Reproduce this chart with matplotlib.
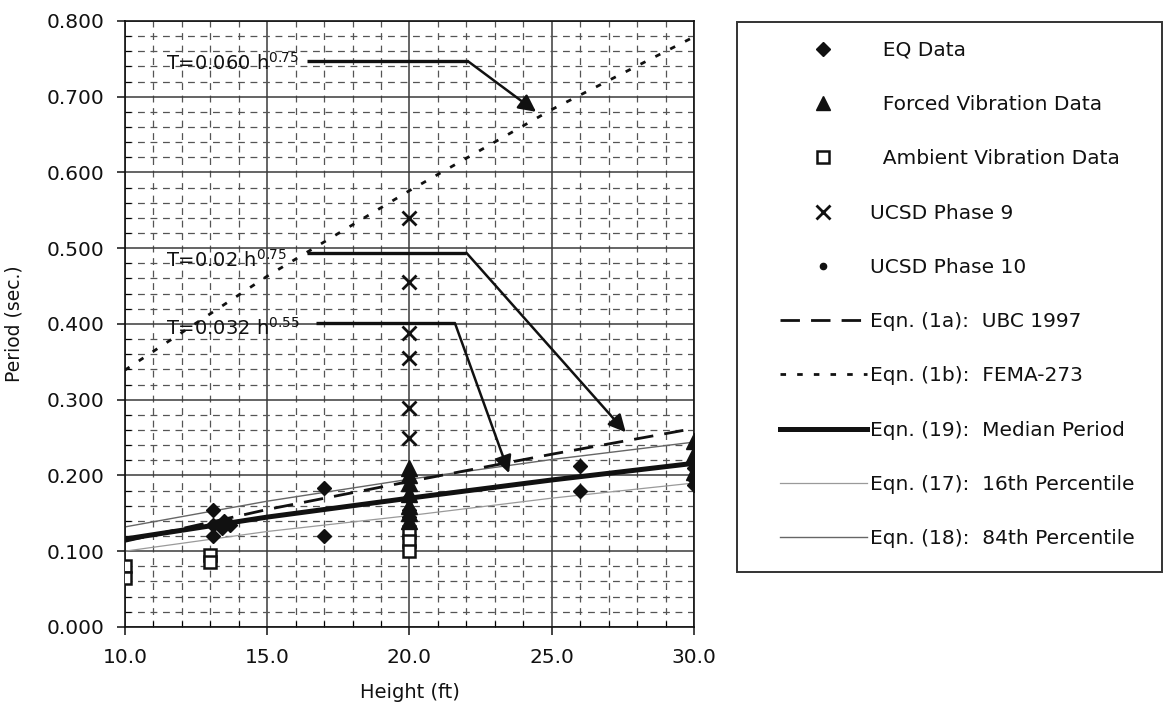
"""Fundamental period vs. building height: data points, code equations and fitted curves."""

import matplotlib

matplotlib.use("Agg")
import matplotlib.pyplot as plt
from matplotlib.lines import Line2D
from matplotlib.patches import Rectangle
from matplotlib.ticker import FormatStrFormatter, MultipleLocator

plt.rcParams["font.family"] = ["DejaVu Sans"]
plt.rcParams["mathtext.fontset"] = "dejavusans"

eq_height = [13.1, 13.1, 13.1, 13.4, 13.7, 13.5, 17.0, 17.0, 20.0, 20.0, 20.0, 26.0, 26.0, 30.0, 30.0, 30.0]
eq_period = [0.155, 0.135, 0.120, 0.130, 0.135, 0.140, 0.183, 0.120, 0.170, 0.155, 0.145, 0.213, 0.180, 0.210, 0.195, 0.188]

forced_height = [20.0, 20.0, 20.0, 20.0, 20.0, 20.0, 20.0, 30.0, 30.0, 30.0]
forced_period = [0.210, 0.200, 0.190, 0.175, 0.160, 0.150, 0.140, 0.245, 0.228, 0.205]

ambient_height = [10.0, 10.0, 13.0, 13.0, 20.0, 20.0, 20.0]
ambient_period = [0.080, 0.065, 0.095, 0.086, 0.125, 0.113, 0.100]

phase9_height = [20.0, 20.0, 20.0, 20.0, 20.0, 20.0]
phase9_period = [0.540, 0.455, 0.388, 0.355, 0.289, 0.250]

phase10_height = [20.0, 20.0]
phase10_period = [0.180, 0.160]

# --- equation curves ---
curve_height = [10.0, 15.0, 20.0, 25.0, 30.0]
ubc_period = [0.113, 0.155, 0.192, 0.228, 0.262]
fema_period = [0.339, 0.463, 0.576, 0.683, 0.779]
median_period = [0.116, 0.145, 0.170, 0.194, 0.216]
p16_period = [0.100, 0.126, 0.147, 0.170, 0.190]
p84_period = [0.132, 0.166, 0.195, 0.221, 0.244]

# --- callouts: label, text position, horizontal leader (x0, x1, y), arrow tip ---
callout_labels = ["T=0.060 h$^{0.75}$", "T=0.02 h$^{0.75}$", "T=0.032 h$^{0.55}$"]
callout_text_xy = [(11.45, 0.745), (11.45, 0.485), (11.45, 0.395)]
callout_leader = [(16.4, 22.05, 0.747), (16.4, 22.0, 0.494), (16.7, 21.6, 0.401)]
callout_tip = [(24.45, 0.680), (27.6, 0.257), (23.5, 0.203)]

INK = "#111111"
W, H = 1167, 710

fig = plt.figure(figsize=(W / 100, H / 100), dpi=100)
ax = fig.add_axes([0.107, 0.117, 0.4877, 0.8535])

ax.set_xlim(10, 30)
ax.set_ylim(0, 0.8)
ax.xaxis.set_major_locator(MultipleLocator(5))
ax.xaxis.set_minor_locator(MultipleLocator(1))
ax.yaxis.set_major_locator(MultipleLocator(0.1))
ax.yaxis.set_minor_locator(MultipleLocator(0.02))
ax.xaxis.set_major_formatter(FormatStrFormatter("%.1f"))
ax.yaxis.set_major_formatter(FormatStrFormatter("%.3f"))

ax.grid(True, which="major", color="#3a3a3a", lw=1.1, zorder=0)
ax.grid(True, which="minor", color="#555555", lw=0.9, ls=(0, (5.5, 4.5)), zorder=0)
ax.set_axisbelow(True)

ax.tick_params(which="major", direction="out", length=6, width=1.1, labelsize=14.5,
               colors=INK, pad=9)
ax.tick_params(which="minor", direction="in", length=4, width=0.8)
for spine in ax.spines.values():
    spine.set_color(INK)
    spine.set_linewidth(1.2)

ax.set_xlabel("Height (ft)", fontsize=14, color=INK, labelpad=12)
ax.set_ylabel("Period (sec.)", fontsize=13.5, color=INK, labelpad=16)

# curves
ubc_style = dict(color=INK, lw=2.0, ls=(0, (7, 4)))
fema_style = dict(color=INK, lw=2.0, ls=(0, (2, 4)))
median_style = dict(color=INK, lw=3.6)
p16_style = dict(color="#9a9a9a", lw=0.9)
p84_style = dict(color="#666666", lw=1.0)

ax.plot(curve_height, p16_period, zorder=2, **p16_style)
ax.plot(curve_height, p84_period, zorder=2, **p84_style)
ax.plot(curve_height, ubc_period, zorder=3, **ubc_style)
ax.plot(curve_height, fema_period, zorder=3, **fema_style)
ax.plot(curve_height, median_period, zorder=3, **median_style)

# data points
ax.plot(ambient_height, ambient_period, ls="none", marker="s", ms=9, mfc="white",
        mec=INK, mew=1.8, zorder=4)
ax.plot(forced_height, forced_period, ls="none", marker="^", ms=11, color=INK, zorder=5)
ax.plot(eq_height, eq_period, ls="none", marker="D", ms=7.5, color=INK, zorder=5)
ax.plot(phase9_height, phase9_period, ls="none", marker="x", ms=10, mew=2.0, color=INK, zorder=5)
ax.plot(phase10_height, phase10_period, ls="none", marker="o", ms=4.5, color=INK, zorder=5)

# callouts
for label, (tx, ty), (x0, x1, ly), (ax_, ay) in zip(callout_labels, callout_text_xy,
                                                     callout_leader, callout_tip):
    ax.text(tx, ty, label, fontsize=14, color=INK, ha="left", va="center", zorder=6)
    ax.plot([x0, x1], [ly, ly], color=INK, lw=2.4, solid_capstyle="butt", zorder=6)
    ax.annotate("", xy=(ax_, ay), xytext=(x1, ly), zorder=6,
                arrowprops=dict(arrowstyle="-|>", mutation_scale=26, lw=1.8,
                                color=INK, shrinkA=0, shrinkB=0))

# legend: entries without frame, box drawn separately
handles = [
    Line2D([], [], ls="none", marker="D", ms=7, color=INK),
    Line2D([], [], ls="none", marker="^", ms=10, color=INK),
    Line2D([], [], ls="none", marker="s", ms=9, mfc="white", mec=INK, mew=1.8),
    Line2D([], [], ls="none", marker="x", ms=10, mew=2.0, color=INK),
    Line2D([], [], ls="none", marker="o", ms=4.5, color=INK),
    Line2D([], [], **ubc_style),
    Line2D([], [], **fema_style),
    Line2D([], [], **median_style),
    Line2D([], [], **p16_style),
    Line2D([], [], **p84_style),
]
labels = [
    "  EQ Data",
    "  Forced Vibration Data",
    "  Ambient Vibration Data",
    "UCSD Phase 9",
    "UCSD Phase 10",
    "Eqn. (1a):  UBC 1997",
    "Eqn. (1b):  FEMA-273",
    "Eqn. (19):  Median Period",
    "Eqn. (17):  16th Percentile",
    "Eqn. (18):  84th Percentile",
]
leg = fig.legend(handles, labels, loc="upper left", bbox_to_anchor=(780 / W, 1 - 41 / H),
                 fontsize=14.5, handlelength=4.3, handletextpad=0.15,
                 labelspacing=1.75, borderpad=0, borderaxespad=0, frameon=False)
for t in leg.get_texts():
    t.set_color(INK)

fig.patches.append(Rectangle((737 / W, 1 - 572 / H), (1162 - 737) / W, (572 - 22) / H,
                             transform=fig.transFigure, fill=False, ec="#333333", lw=1.4))

fig.savefig("out.png", dpi=100)
